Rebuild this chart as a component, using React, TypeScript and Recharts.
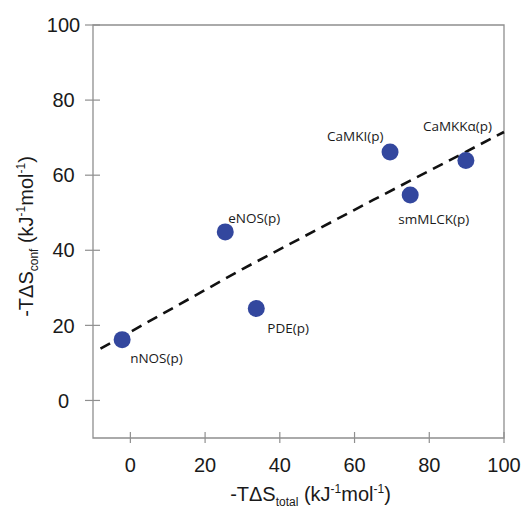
import React from "react";
import { ScatterChart, Scatter, XAxis, YAxis, ReferenceArea } from "recharts";

// -TΔS_total vs -TΔS_conf for each calmodulin target peptide
const proteins = ["nNOS(p)", "eNOS(p)", "PDE(p)", "CaMKI(p)", "smMLCK(p)", "CaMKKα(p)"];
const totalEntropy = [-2.2, 25.4, 33.7, 69.5, 74.9, 89.8];
const confEntropy = [16.2, 44.9, 24.5, 66.2, 54.7, 63.9];

// dashed trend line through the points
const fitX = [-8, 30, 65, 100];
const fitY = [13.8, 35.0, 53.4, 71.5];

const axisTicks = [0, 20, 40, 60, 80, 100];

const points = proteins.map((name, i) => ({ name, x: totalEntropy[i], y: confEntropy[i] }));
const fitLine = fitX.map((x, i) => ({ x, y: fitY[i] }));

// where each label sits relative to its dot: [dx of text start, dy of text centre]
const labelOffset: Record<string, [number, number]> = {
  "nNOS(p)": [8, 19],
  "eNOS(p)": [3, -14],
  "PDE(p)": [11, 20],
  "CaMKI(p)": [-63, -16],
  "smMLCK(p)": [-12, 24],
  "CaMKKα(p)": [-43, -34],
};

const AXIS_GREY = "#8f8f8f";
const TICK_FONT = "'Liberation Sans', Arial, sans-serif";

const XTick = (props: any) => {
  const { x, y, payload } = props;
  return (
    <g>
      <line x1={x} x2={x} y1={y - 6} y2={y + 5} stroke={AXIS_GREY} strokeWidth={1.2} />
      <text x={x} y={y + 34} textAnchor="middle" fontSize={20} fontFamily={TICK_FONT} fill="#1a1a1a">
        {payload.value}
      </text>
    </g>
  );
};

const YTick = (props: any) => {
  const { x, y, payload } = props;
  return (
    <g>
      <line x1={x - 8} x2={x + 7} y1={y} y2={y} stroke={AXIS_GREY} strokeWidth={1.2} />
      <text x={x - 29.5} y={y} dy="0.36em" textAnchor="middle" fontSize={20} fontFamily={TICK_FONT} fill="#1a1a1a">
        {payload.value}
      </text>
    </g>
  );
};

const XTitle = (props: any) => {
  const { viewBox } = props;
  const cx = viewBox.x + viewBox.width / 2 + 12;
  return (
    <text x={cx} y={501} textAnchor="middle" fontSize={20} fontFamily={TICK_FONT} fill="#1a1a1a">
      -TΔS
      <tspan fontSize={12} dy={5}>total</tspan>
      <tspan dy={-5}> (kJ</tspan>
      <tspan fontSize={12} dy={-8}>-1</tspan>
      <tspan dy={8}>mol</tspan>
      <tspan fontSize={12} dy={-8}>-1</tspan>
      <tspan dy={8}>)</tspan>
    </text>
  );
};

const YTitle = (props: any) => {
  const { viewBox } = props;
  const cy = viewBox.y + viewBox.height / 2 + 5;
  const cx = 33;
  return (
    <text
      x={cx}
      y={cy}
      transform={`rotate(-90, ${cx}, ${cy})`}
      textAnchor="middle"
      fontSize={20}
      fontFamily={TICK_FONT}
      fill="#1a1a1a"
    >
      -TΔS
      <tspan fontSize={12} dy={5}>conf</tspan>
      <tspan dy={-5}> (kJ</tspan>
      <tspan fontSize={12} dy={-8}>-1</tspan>
      <tspan dy={8}>mol</tspan>
      <tspan fontSize={12} dy={-8}>-1</tspan>
      <tspan dy={8}>)</tspan>
    </text>
  );
};

const LabelledDot = (props: any) => {
  const { cx, cy, payload } = props;
  const [dx, dy] = labelOffset[payload.name] ?? [8, 0];
  return (
    <g>
      <circle cx={cx} cy={cy} r={8.5} fill="#33479e" />
      <text
        x={cx + dx}
        y={cy + dy}
        dy="0.35em"
        fontSize={13.5}
        fontFamily="'Open Sans', sans-serif"
        fill="#1a1a1a"
      >
        {payload.name}
      </text>
    </g>
  );
};

const NoDot = () => <g />;

export default function App() {
  return (
    <div style={{ position: "absolute", left: 0, top: 0, background: "#fff" }}>
      <ScatterChart width={527} height={508} margin={{ top: 25, right: 23, bottom: 0, left: 0 }}>
        <ReferenceArea x1={-10} x2={100} y1={-10} y2={100} fill="none" stroke={AXIS_GREY} strokeWidth={1.3} />
        <XAxis
          type="number"
          dataKey="x"
          domain={[-10, 100]}
          ticks={axisTicks}
          height={70}
          axisLine={false}
          tickLine={false}
          tickSize={0}
          tickMargin={0}
          tick={XTick}
          label={{ content: XTitle }}
        />
        <YAxis
          type="number"
          dataKey="y"
          domain={[-10, 100]}
          ticks={axisTicks}
          width={93}
          axisLine={false}
          tickLine={false}
          tickSize={0}
          tickMargin={0}
          tick={YTick}
          label={{ content: YTitle }}
        />
        <Scatter
          data={fitLine}
          shape={NoDot}
          line={{ stroke: "#111", strokeWidth: 2.6, strokeDasharray: "11 7" }}
          lineType="joint"
          isAnimationActive={false}
        />
        <Scatter data={points} shape={LabelledDot} isAnimationActive={false} />
      </ScatterChart>
    </div>
  );
}
